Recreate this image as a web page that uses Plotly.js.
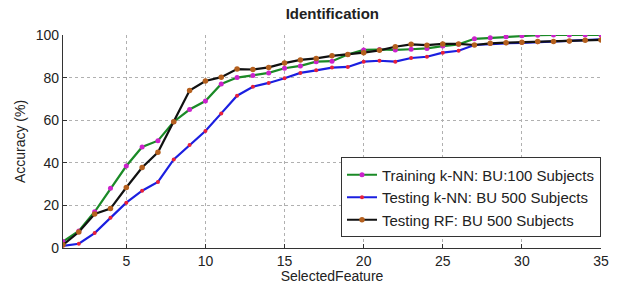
<!DOCTYPE html>
<html>
<head>
<meta charset="utf-8">
<script src="https://cdn.plot.ly/plotly-3.0.1.min.js"></script>
<style>html,body{margin:0;padding:0;background:#fff;}#chart{width:627px;height:284px;}</style>
</head>
<body>
<div id="chart"></div>
<script>
const features = [1,2,3,4,5,6,7,8,9,10,11,12,13,14,15,16,17,18,19,20,21,22,23,24,25,26,27,28,29,30,31,32,33,34,35];
const trainingKnn = [3,8,17,28,38.5,47.4,50.4,59.3,65,69,77,80,81,82.2,84.4,85.5,87.5,87.7,90.8,93,93.2,93,93.3,93.7,94.8,95.6,98.2,98.7,99.2,99.6,99.9,100,100,100,100];
const testingKnn = [1,2,7,14.2,21.3,26.9,31,41.6,48.4,54.9,63.2,71.5,75.7,77.5,79.7,82.2,83.4,84.7,85,87.5,87.9,87.5,89.2,89.8,91.7,92.6,95.3,95.8,96.1,96.3,96.6,96.8,97,97.6,98];
const testingRf = [1.5,7.5,16,18.5,28.4,37.8,44.9,59.3,73.9,78.4,80.2,84,83.8,84.8,86.8,88.3,89,90.2,90.9,91.7,92.8,94.5,95.6,95.2,95.8,95.8,95.3,96.1,96.4,96.6,96.9,96.9,97.2,97.5,97.7];
const seriesNames = ['Training k-NN: BU:100 Subjects','Testing k-NN: BU 500 Subjects','Testing RF: BU 500 Subjects'];
const xTicks = [5,10,15,20,25,30,35];
const yTicks = [0,20,40,60,80,100];

const font = 'Liberation Sans, Arial, Helvetica, sans-serif';
const traces = [
  {x: features, y: trainingKnn, name: seriesNames[0], mode: 'lines+markers', type: 'scatter',
   line: {color: '#1a8a26', width: 2.2}, marker: {color: '#cc22cc', size: 5}},
  {x: features, y: testingKnn, name: seriesNames[1], mode: 'lines+markers', type: 'scatter',
   line: {color: '#1b1fe0', width: 2.2}, marker: {color: '#e8203a', size: 4}},
  {x: features, y: testingRf, name: seriesNames[2], mode: 'lines+markers', type: 'scatter',
   line: {color: '#111111', width: 2.2}, marker: {color: '#b5601e', size: 5.5}}
];
const layout = {
  width: 627, height: 284,
  margin: {l: 63, r: 26, t: 35, b: 36},
  paper_bgcolor: '#fff', plot_bgcolor: '#fff',
  font: {family: font, size: 14, color: '#222'},
  title: {text: '<b>Identification</b>', font: {family: font, size: 15, color: '#222'}, x: 0.53, xanchor: 'center', y: 0.95, yanchor: 'middle'},
  xaxis: {
    range: [1, 35], tickvals: xTicks, ticktext: xTicks.map(String),
    showline: true, linecolor: '#333', linewidth: 1.2,
    ticks: 'inside', ticklen: 4, tickcolor: '#333',
    showgrid: true, gridcolor: '#b0b0b0', griddash: 'dot', gridwidth: 1,
    zeroline: false, tickfont: {size: 14},
    title: {text: 'SelectedFeature', font: {size: 14}, standoff: 2}
  },
  yaxis: {
    range: [0, 100], tickvals: yTicks, ticktext: yTicks.map(String),
    showline: true, linecolor: '#333', linewidth: 1.2,
    ticks: 'inside', ticklen: 4, tickcolor: '#333',
    showgrid: true, gridcolor: '#b0b0b0', griddash: 'dot', gridwidth: 1,
    zeroline: false, tickfont: {size: 14},
    title: {text: 'Accuracy (%)', font: {size: 14}, standoff: 6}
  },
  legend: {
    x: 1, xanchor: 'right', y: 0.425, yanchor: 'top',
    bgcolor: '#fff', bordercolor: '#333', borderwidth: 1,
    font: {size: 15, color: '#222'}, itemwidth: 30, tracegroupgap: 0
  },
  showlegend: true
};
Plotly.newPlot('chart', traces, layout, {displayModeBar: false, staticPlot: true});
</script>
</body>
</html>
